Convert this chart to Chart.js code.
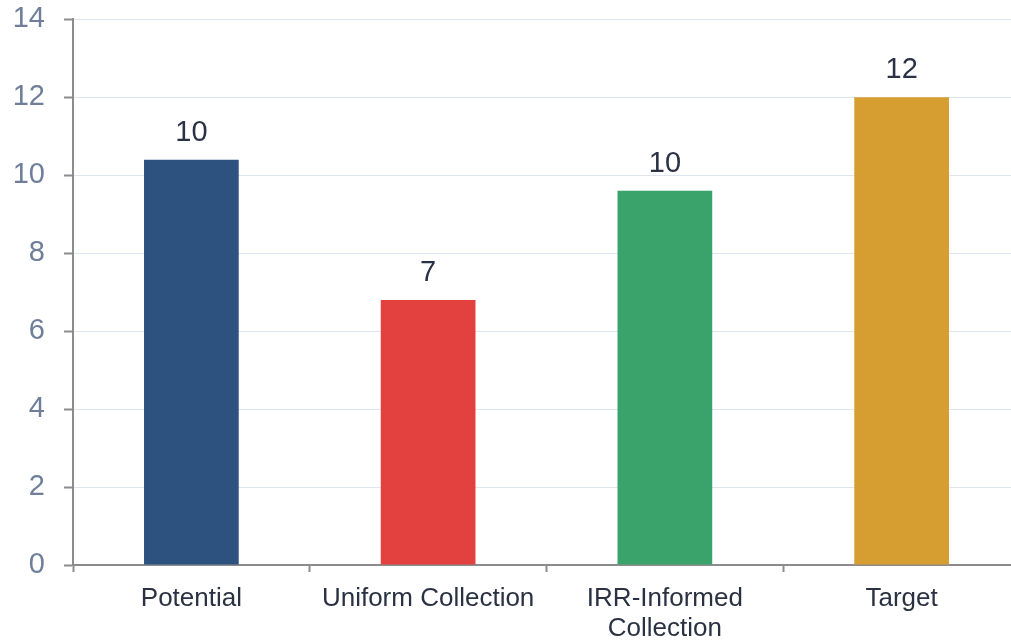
<!DOCTYPE html>
<html><head><meta charset="utf-8">
<script src="https://cdn.jsdelivr.net/npm/chart.js@4/dist/chart.umd.min.js"></script>
<style>html,body{margin:0;padding:0;overflow:hidden;background:#fff}#wrap{width:1021px;height:657px;position:relative;margin-top:-17px}</style>
</head><body><div id="wrap"><canvas id="c"></canvas></div>
<script>
const categories = [["Potential"], ["Uniform Collection"], ["IRR-Informed", "Collection"], ["Target"]];
const values = [10.4, 6.8, 9.6, 12.0];
const barColors = ["#2d5280", "#e34040", "#39a36b", "#d69e30"];
const yTicks = [0, 2, 4, 6, 8, 10, 12, 14];

const FONT = "'Liberation Sans', Arial, sans-serif";
const labelPlugin = {
  id: 'barLabels',
  afterDatasetsDraw(chart) {
    const ctx = chart.ctx;
    const meta = chart.getDatasetMeta(0);
    ctx.save();
    ctx.font = "29px " + FONT;
    ctx.fillStyle = "#2b3245";
    ctx.textAlign = "center";
    ctx.textBaseline = "alphabetic";
    meta.data.forEach((bar, i) => {
      ctx.fillText(String(Math.round(values[i])), bar.x, bar.y - 19);
    });
    ctx.restore();
  }
};

new Chart(document.getElementById('c'), {
  type: 'bar',
  data: { labels: categories, datasets: [{ data: values, backgroundColor: barColors, barPercentage: 0.4, categoryPercentage: 1.0 }] },
  options: {
    responsive: true, maintainAspectRatio: false, animation: false,
    layout: { padding: { top: 1, right: 1, left: 0, bottom: 0 } },
    plugins: { legend: { display: false }, tooltip: { enabled: false } },
    scales: {
      x: {
        afterFit(s) { s.height = 75; },
        grid: { display: true, drawOnChartArea: false, drawTicks: true, tickLength: 7, tickColor: '#8c8c8c', tickWidth: 2, offset: true },
        border: { color: '#8c8c8c', width: 2 },
        ticks: { font: { size: 26, family: FONT, lineHeight: 1.18 }, color: '#2a3142', padding: 11, maxRotation: 0, autoSkip: false }
      },
      y: {
        min: 0, max: 14,
        afterFit(s) { s.width = 73; },
        afterBuildTicks(s) { s.ticks = yTicks.map(v => ({ value: v })); },
        grid: { color: '#dde5f0', lineWidth: 1, tickLength: 9, tickColor: '#8c8c8c', tickWidth: 2 },
        border: { color: '#8c8c8c', width: 2 },
        ticks: { font: { size: 29, family: FONT }, color: '#6f7f99', padding: 19 }
      }
    }
  },
  plugins: [labelPlugin]
});
</script></body></html>
